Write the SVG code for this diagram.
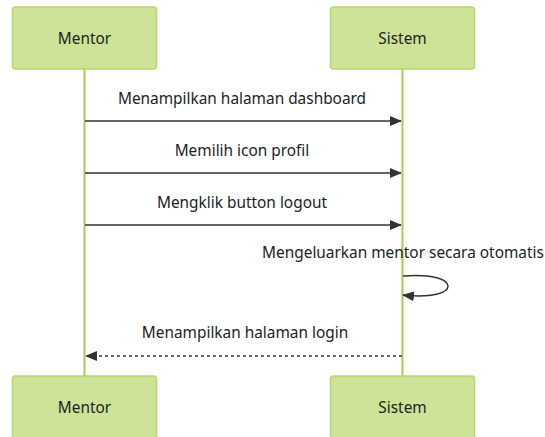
<svg xmlns="http://www.w3.org/2000/svg" width="545" height="437" viewBox="0 0 545 437">
  <style>
    .actor { fill: #cde498; stroke: #b5d86a; stroke-width: 1.5; }
    .lifeline { stroke: #a6d04a; stroke-width: 2; }
    .label { font-family: "Noto Sans", "Open Sans", sans-serif; font-size: 15.4px; fill: #222; text-anchor: middle; }
    .msg { stroke: #333; stroke-width: 1.5; fill: none; }
    .dashed { stroke-dasharray: 3 3; }
  </style>
  <defs>
    <marker id="arrowhead" viewBox="0 0 12 10" refX="11" refY="5" markerWidth="12" markerHeight="10" markerUnits="userSpaceOnUse" orient="auto">
      <path d="M0,0 L12,5 L0,10 z" fill="#333"/>
    </marker>
  </defs>

  <!-- lifelines -->
  <g id="lifelines">
    <line class="lifeline" x1="84.5" y1="69" x2="84.5" y2="376"/>
    <line class="lifeline" x1="402.5" y1="69" x2="402.5" y2="376"/>
  </g>

  <g id="actor-mentor-top">
    <rect class="actor" x="12.5" y="7" width="144" height="62" rx="3"/>
    <text class="label" x="84.5" y="44">Mentor</text>
  </g>
  <g id="actor-sistem-top">
    <rect class="actor" x="330.5" y="7" width="144" height="62" rx="3"/>
    <text class="label" x="402.5" y="44">Sistem</text>
  </g>
  <g id="actor-mentor-bottom">
    <rect class="actor" x="12.5" y="376" width="144" height="65" rx="3"/>
    <text class="label" x="84.5" y="413">Mentor</text>
  </g>
  <g id="actor-sistem-bottom">
    <rect class="actor" x="330.5" y="376" width="144" height="65" rx="3"/>
    <text class="label" x="402.5" y="413">Sistem</text>
  </g>

  <!-- messages -->
  <g id="connectors">
    <text class="label" x="242" y="104">Menampilkan halaman dashboard</text>
    <line class="msg" x1="85" y1="121" x2="401" y2="121" marker-end="url(#arrowhead)"/>

    <text class="label" x="242" y="156">Memilih icon profil</text>
    <line class="msg" x1="85" y1="173" x2="401" y2="173" marker-end="url(#arrowhead)"/>

    <text class="label" x="242" y="208">Mengklik button logout</text>
    <line class="msg" x1="85" y1="225" x2="401" y2="225" marker-end="url(#arrowhead)"/>

    <text class="label" x="403" y="258">Mengeluarkan mentor secara otomatis</text>
    <path class="msg" d="M403,276 C463,271 463,302 403,295" marker-end="url(#arrowhead)"/>

    <text class="label" x="245" y="338">Menampilkan halaman login</text>
    <line class="msg dashed" x1="402" y1="356" x2="86" y2="356" marker-end="url(#arrowhead)"/>
  </g>
</svg>
